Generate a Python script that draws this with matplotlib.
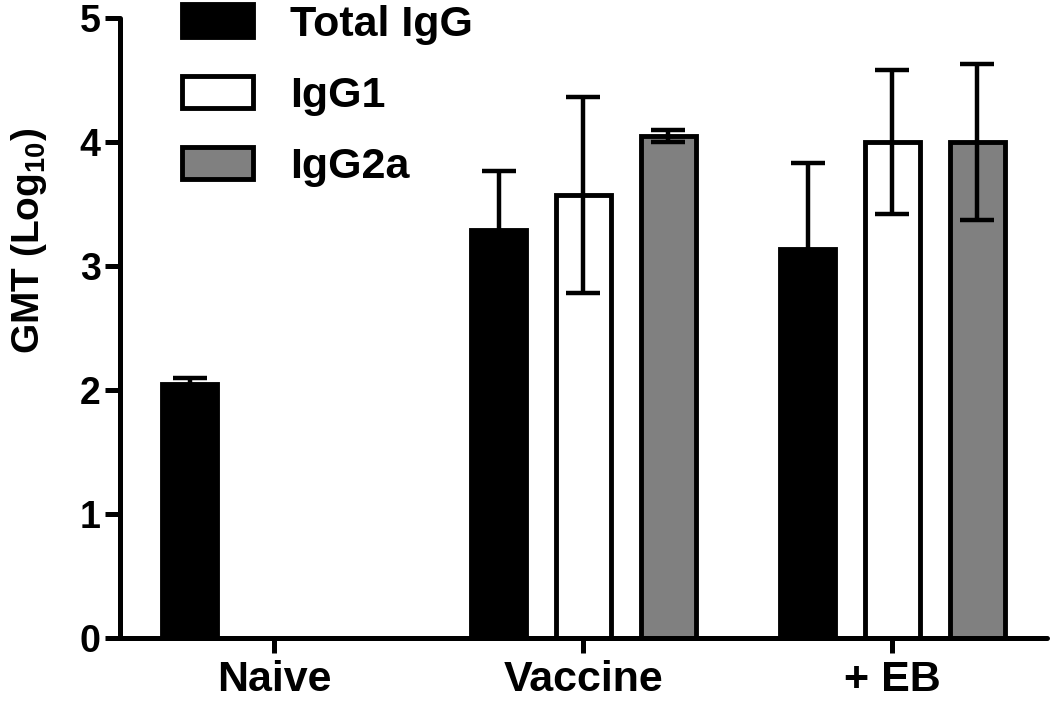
import numpy as np
import matplotlib
matplotlib.use("Agg")
import matplotlib.pyplot as plt

plt.rcParams['font.family'] = ['Liberation Sans', 'DejaVu Sans']
plt.rcParams['font.weight'] = 'bold'
plt.rcParams['mathtext.fontset'] = 'custom'
plt.rcParams['mathtext.rm'] = 'Liberation Sans:bold'
plt.rcParams['mathtext.bf'] = 'Liberation Sans:bold'
plt.rcParams['mathtext.it'] = 'Liberation Sans:bold'

groups = ['Naive', 'Vaccine', '+ EB']
series = ['Total IgG', 'IgG1', 'IgG2a']
total_igg = [2.05, 3.29, 3.14]
total_igg_err = [0.05, 0.48, 0.69]
igg1 = [np.nan, 3.57, 4.00]
igg1_err = [np.nan, 0.79, 0.58]
igg2a = [np.nan, 4.05, 4.00]
igg2a_err = [np.nan, 0.05, 0.63]

colors = ['black', 'white', '#808080']
vals = [total_igg, igg1, igg2a]
errs = [total_igg_err, igg1_err, igg2a_err]

fig = plt.figure(figsize=(10.5, 7.02), dpi=100)
ax = fig.add_axes([0.1143, 0.0912, 0.8827, 0.883])

x = np.arange(len(groups))
off = 0.274
w = 0.178
for i in range(3):
    xi = x + (i - 1) * off
    ax.bar(xi, vals[i], w, color=colors[i], edgecolor='black', linewidth=3.5,
           label=series[i], zorder=2)
    ax.errorbar(xi, vals[i], yerr=errs[i], fmt='none', ecolor='black',
                elinewidth=3.2, capsize=12, capthick=3.2, zorder=3)

ax.set_xlim(-0.5, 2.5)
ax.set_ylim(0, 5)
ax.set_xticks(x)
ax.set_xticklabels(groups)
ax.set_yticks(range(6))
for s in ['top', 'right']:
    ax.spines[s].set_visible(False)
for s in ['left', 'bottom']:
    ax.spines[s].set_linewidth(3.6)
    ax.spines[s].set_capstyle('round')
ax.tick_params(axis='both', width=3.6, length=11)
ax.tick_params(axis='x', labelsize=31, pad=5)
ax.tick_params(axis='y', labelsize=27, pad=3)
ax.set_ylabel('GMT (Log$_{10}$)', fontsize=28, fontweight='bold')
ax.yaxis.set_label_coords(-0.077, 0.64)

leg = ax.legend(loc='upper left', bbox_to_anchor=(0.067, 1.022), frameon=False,
                fontsize=31, handlelength=1.65, handleheight=0.77,
                labelspacing=0.72, handletextpad=0.86,
                borderpad=0, borderaxespad=0)

fig.savefig('out.png', dpi=100)
